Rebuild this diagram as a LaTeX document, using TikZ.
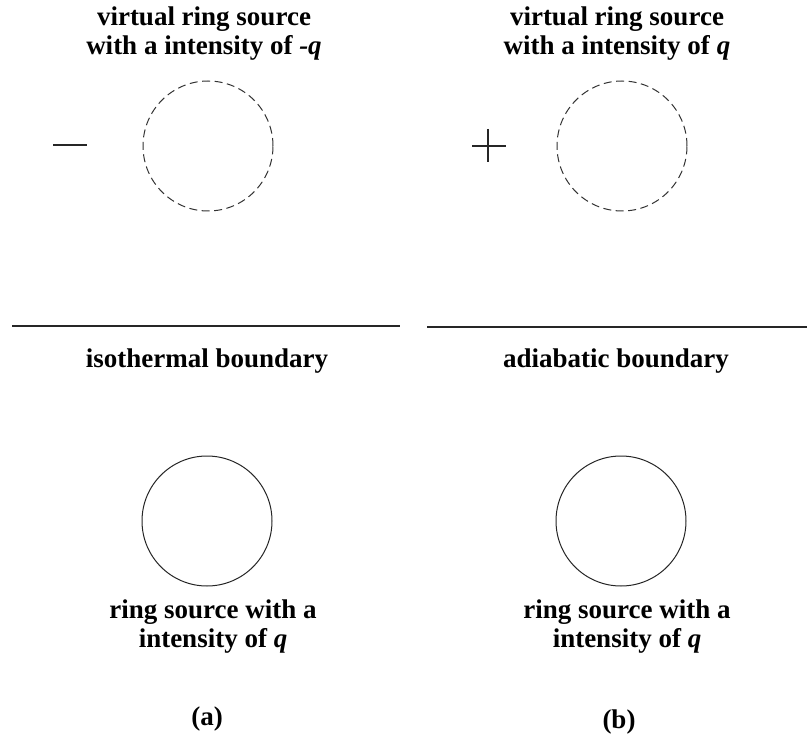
\documentclass[tikz,border=0pt]{standalone}
\usepackage{fontspec}
\setmainfont{Liberation Serif}
\begin{document}
\begin{tikzpicture}[x=1pt,y=-1pt,
  lbl/.style={font=\fontsize{27}{29}\selectfont\bfseries, align=center, inner sep=0pt},
  virtring/.style={draw=black!80, line width=1pt, dash pattern=on 8pt off 4.5pt},
  realring/.style={draw=black!85, line width=1pt},
  bound/.style={draw=black!85, line width=2.2pt},
  sign/.style={draw=black!85, line width=1.3pt}]
\useasboundingbox (0,0) rectangle (807,741);
% titles
\node[lbl, anchor=north] (ta) at (204,7) {virtual ring source\\with a intensity of \textit{-q}};
\node[lbl, anchor=north] (tb) at (617,7) {virtual ring source\\with a intensity of \textit{q}};
% virtual rings
\node[virtring, circle, minimum size=130pt, inner sep=0pt] (va) at (208,146) {};
\node[virtring, circle, minimum size=130pt, inner sep=0pt] (vb) at (622,146) {};
% signs
\coordinate (m1) at (53,145); \coordinate (m2) at (87,145);
\draw[sign] (m1) -- (m2);
\coordinate (p1) at (472,146); \coordinate (p2) at (506,146);
\coordinate (p3) at (488,129); \coordinate (p4) at (488,162);
\draw[sign] (p1) -- (p2);
\draw[sign] (p3) -- (p4);
% boundaries
\coordinate (la) at (12,326); \coordinate (ra) at (400,326);
\coordinate (lb) at (427,327); \coordinate (rb) at (807,327);
\draw[bound] (la) -- (ra);
\draw[bound] (lb) -- (rb);
\node[lbl, anchor=base] (ba) at (207,367) {isothermal boundary};
\node[lbl, anchor=base] (bb) at (616,367) {adiabatic boundary};
% real rings
\node[realring, circle, minimum size=130pt, inner sep=0pt] (ra1) at (207,521) {};
\node[realring, circle, minimum size=130pt, inner sep=0pt] (rb1) at (621,521) {};
\node[lbl, anchor=north] (sa) at (213,600) {ring source with a\\intensity of \textit{q}};
\node[lbl, anchor=north] (sb) at (627,600) {ring source with a\\intensity of \textit{q}};
% captions
\node[lbl, anchor=base] (ca) at (207,725) {(a)};
\node[lbl, anchor=base] (cb) at (619,728) {(b)};
\end{tikzpicture}
\end{document}
